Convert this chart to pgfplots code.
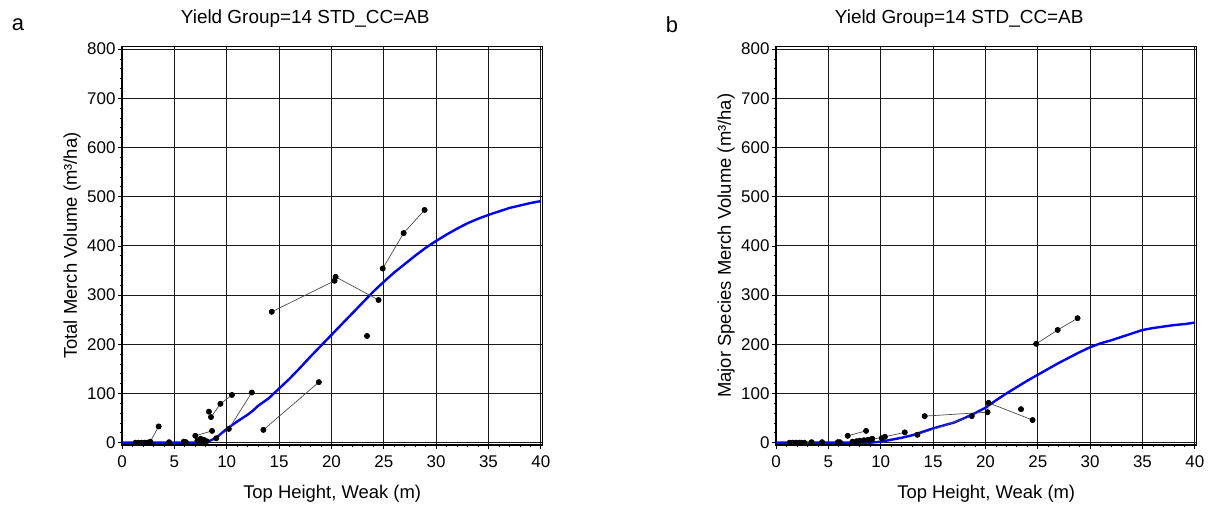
\documentclass[border=0pt]{standalone}
\usepackage{pgfplots}
\pgfplotsset{compat=1.18}
\usepackage{fontspec}
\setmainfont{Liberation Sans}
\pgfplotsset{
  panel/.style={
    scale only axis, width=420.4bp, height=398.3bp,
    xmin=0, xmax=40.15, ymin=-4.5, ymax=805,
    xtick={0,5,...,40}, ytick={0,100,...,800},
    minor x tick num=4, minor y tick num=4,
    grid=major, major grid style={black!90, line width=1bp},
    axis line style={black, line width=1.2bp},
    tick align=outside, tick pos=left,
    major tick length=4bp, minor tick length=2.5bp,
    every tick/.style={black, line width=0.7bp},
    /pgf/number format/assume math mode=true,
    ticklabel style={font=\fontsize{17}{20}\selectfont},
    xticklabel style={anchor=north, yshift=-3.5bp},
    yticklabel style={anchor=east, xshift=1bp},
    xlabel style={font=\fontsize{18.5}{21}\selectfont, at={(0.5,0)}, anchor=base, yshift=-53.5bp},
    ylabel style={font=\fontsize{18.5}{21}\selectfont, at={(0,0.5)}, anchor=center, yshift=50bp},
    title style={font=\fontsize{19}{22}\selectfont, at={(0.5,1)}, anchor=base, yshift=17.5bp, xshift=-27bp},
    title={Yield Group=14 STD\_CC=AB},
    xlabel={Top Height, Weak (m)},
  },
  obs/.style={color=black!70, line width=0.7bp, mark=*, mark size=2.6bp, mark options={black, fill=black}},
  fit/.style={color=blue, line width=2.4bp, no marks, line join=round},
}
\begin{document}
\begin{tikzpicture}[x=1bp,y=1bp]
\useasboundingbox (0bp,0bp) rectangle (1211bp,506bp);
\node[font=\fontsize{22}{24}\selectfont] at (18bp,481.7bp) {a};
\node[font=\fontsize{22}{24}\selectfont] at (672bp,481.7bp) {b};
% ---------------- panel a ----------------
\begin{axis}[panel, at={(122bp,61.1bp)}, anchor=south west,
  ylabel={Total Merch Volume (m³/ha)}]
\addplot[fit] coordinates {(0,0)(8,0)(9,10)(10,28)(11,43)(12,57)(12.5,65)(13,75)(14,90)(15,110)(16,130)(17,152)(18,175)(19,197)(20,219)(21,241)(22,263)(23,285)(24,307)(25,327)(26,346)(27,363)(28,380)(29,396)(30,410)(31,423)(32,435)(33,446)(34,455)(35,463)(36,470)(37,477)(38,482)(39,487)(40,491)};
\addplot[obs] coordinates {(14.3,266)(20.3,329)(20.4,337)(24.5,290)};
\addplot[obs] coordinates {(24.9,354)(26.9,426)(28.9,473)};
\addplot[obs] coordinates {(23.4,217)};
\addplot[obs] coordinates {(13.5,26)(18.8,123)};
\addplot[obs] coordinates {(9.0,9)(10.2,28)(12.4,102)};
\addplot[obs] coordinates {(8.3,63)};
\addplot[obs] coordinates {(8.5,52)(9.4,79)(10.5,97)};
\addplot[obs] coordinates {(7.0,14)(8.6,24)};
\addplot[obs] coordinates {(2.7,2)(3.5,33)};
\addplot[obs, only marks] coordinates {(1.3,0)(1.6,0)(1.9,0)(2.2,0)(2.4,0)(4.5,1)(5.9,2)(6.1,1)(7.2,4)(7.5,8)(7.8,6)(8.1,3)(7.6,2)};
\end{axis}
% ---------------- panel b ----------------
\begin{axis}[panel, at={(776bp,61.1bp)}, anchor=south west,
  ylabel={Major Species Merch Volume (m³/ha)}]
\addplot[fit] coordinates {(0,0)(9,0)(10,2)(11,6)(12,10)(13,15)(14,22)(15,29)(16,35)(17,41)(18,50)(19,60)(20,71)(21,86)(22,100)(23,113)(24,126)(25,138)(26,150)(27,162)(28,173)(29,184)(30,194)(31,202)(32,208)(33,215)(34,222)(35,229)(36,233)(37,236)(38,239)(39,241)(40,244)};
\addplot[obs] coordinates {(14.2,54)(20.2,62)(20.3,81)(24.5,46)};
\addplot[obs] coordinates {(24.85,201)(26.9,229)(28.8,253)};
\addplot[obs] coordinates {(23.4,68)};
\addplot[obs] coordinates {(13.5,16)(18.7,54)};
\addplot[obs] coordinates {(9.0,6)(10.4,12)(12.3,21)};
\addplot[obs] coordinates {(6.85,14)(8.6,24)};
\addplot[obs] coordinates {(2.7,0)(3.4,1)};
\addplot[obs, only marks] coordinates {(1.3,0)(1.6,0)(1.9,0)(2.2,0)(2.4,0)(4.4,1)(5.9,1)(6.1,1)(7.3,2)(7.7,3)(8.0,4)(8.4,5)(8.8,6)(9.2,8)(10.1,9)};
\end{axis}
\end{tikzpicture}
\end{document}
